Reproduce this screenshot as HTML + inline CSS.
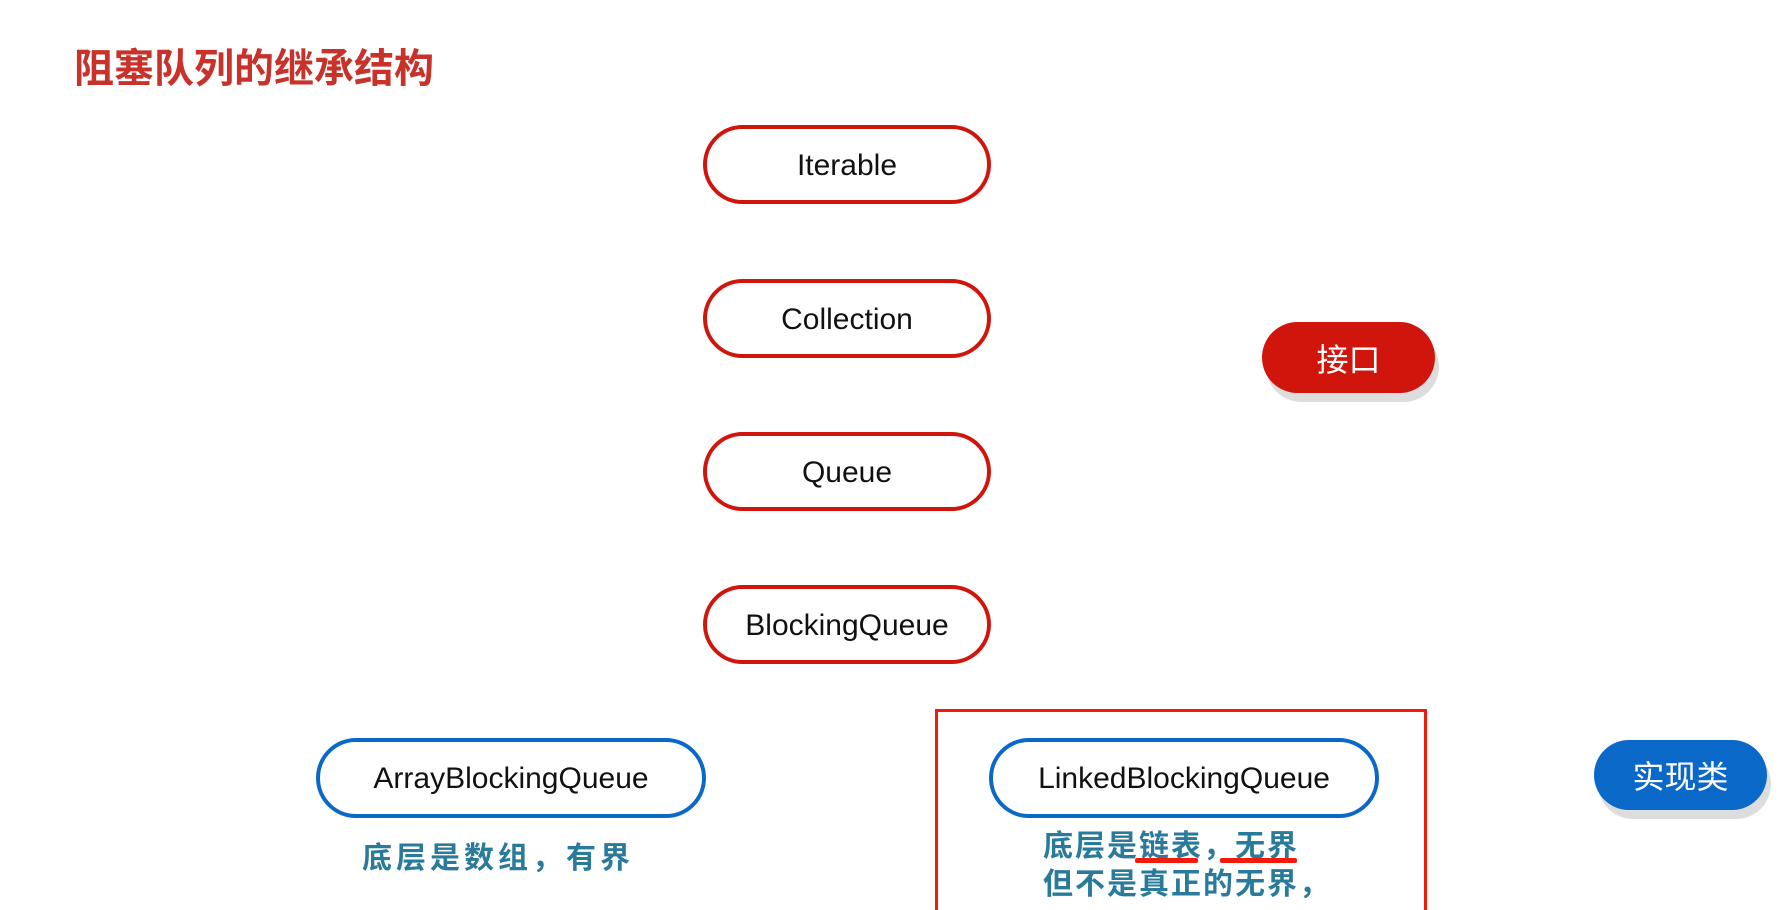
<!DOCTYPE html>
<html><head><meta charset="utf-8"><style>
html,body{margin:0;padding:0;background:#fff;width:1784px;height:910px;overflow:hidden;position:relative;font-family:"Liberation Sans","Noto Sans CJK SC",sans-serif}
.t{position:absolute;left:74px;top:36px;font-size:40px;color:#c8322a;font-weight:bold;letter-spacing:0px;white-space:nowrap}
.p{position:absolute;box-sizing:border-box;border:4px solid #d0150c;border-radius:40px;display:flex;align-items:center;justify-content:center;font-size:30px;color:#111;background:#fff;padding-top:2px}
.b{border-color:#0a68c8}
.tag{position:absolute;border-radius:36px;display:flex;align-items:center;justify-content:center;color:#fff;font-size:32px;box-shadow:4px 9px 0 #ddd}
.n{position:absolute;color:#2a7b9b;font-size:30px;font-weight:bold;white-space:nowrap;line-height:38px;letter-spacing:2px}
</style></head><body>
<div class="t">阻塞队列的继承结构</div>
<div class="p" style="left:703px;top:125px;width:288px;height:79px">Iterable</div>
<div class="p" style="left:703px;top:279px;width:288px;height:79px">Collection</div>
<div class="p" style="left:703px;top:432px;width:288px;height:79px">Queue</div>
<div class="p" style="left:703px;top:585px;width:288px;height:79px">BlockingQueue</div>
<div class="p b" style="left:316px;top:738px;width:390px;height:80px">ArrayBlockingQueue</div>
<div style="position:absolute;left:935px;top:709px;width:492px;height:220px;box-sizing:border-box;border:3px solid #f21a0a"></div>
<div class="p b" style="left:989px;top:738px;width:390px;height:80px">LinkedBlockingQueue</div>
<div class="tag" style="left:1262px;top:322px;width:173px;height:71px;background:#d0150c">接口</div>
<div class="tag" style="left:1594px;top:740px;width:173px;height:70px;background:#0a68c8">实现类</div>
<div class="n" style="left:362px;top:840px;letter-spacing:4px">底层是数组，有界</div>
<div class="n" style="left:1043px;top:828px">底层是链表，无界<br>但不是真正的无界，</div>
<div style="position:absolute;left:1135px;top:858px;width:63px;height:5px;background:#f21a0a;border-radius:2px"></div>
<div style="position:absolute;left:1220px;top:858px;width:77px;height:5px;background:#f21a0a;border-radius:2px"></div>
</body></html>
